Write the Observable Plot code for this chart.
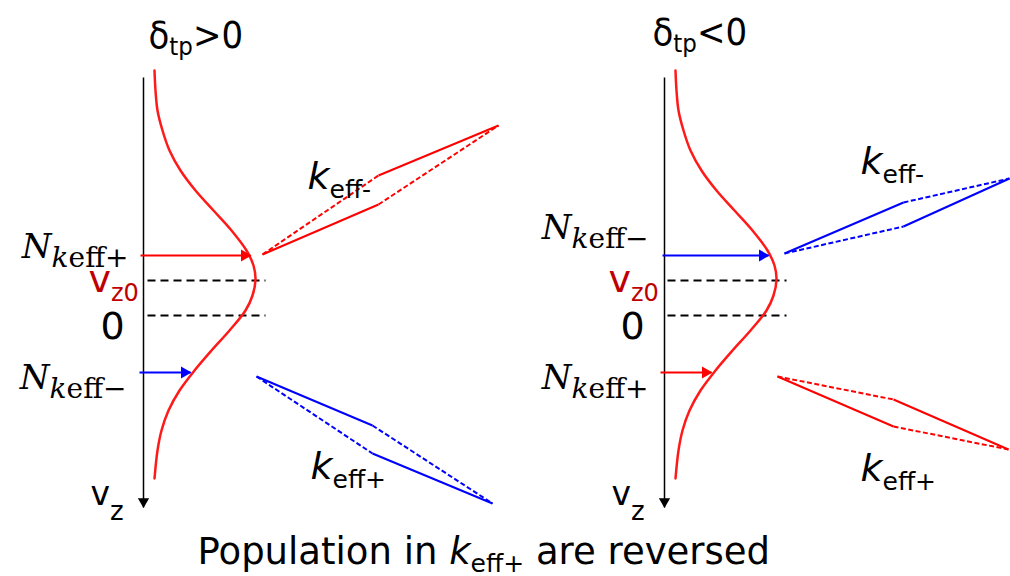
<!DOCTYPE html>
<html><head><meta charset="utf-8">
<script src="https://cdn.jsdelivr.net/npm/d3@7"></script>
<script src="https://cdn.jsdelivr.net/npm/@observablehq/plot@0.6"></script>
<style>html,body{margin:0;padding:0;background:#fff}#chart svg{display:block}</style>
</head><body><div id="chart"></div>
<script>
// ---- panels ----
const panels = ["δtp>0", "δtp<0"];
const axisX = [143, 664];            // v_z axis per panel
const axisTop = 77, axisBottom = 507;
const curveBase = [153, 674];        // base line of the population curve per panel

// ---- population profile (vertical position, width from base) ----
const curveVz  = [70, 90, 110, 130, 150, 170, 190, 210, 230, 250, 265, 279, 295, 310, 330, 350, 370, 390, 410, 430, 450, 478];
const curvePop = [1, 2, 4, 9, 16, 27, 42, 60, 78, 93, 100, 102, 99, 92, 76, 58, 41, 26, 15, 8, 4, 1];

// ---- dashed reference levels (v_z0 and 0) ----
const levelNames = ["vz0", "zero"];
const levelVz = [280, 315];
const levelX1 = [147, 667];
const levelX2 = [265, 786];

// ---- population pointers (N_keff) ----
const pointerPanel = [0, 0, 1, 1];
const pointerKey   = ["keff+", "keff−", "keff−", "keff+"];
const pointerVz    = [255, 372, 255, 372];
const pointerX1    = [140, 139, 662, 660];
const pointerX2    = [250, 190, 768, 711];

// ---- laser beam pairs: start A, upper kink, lower kink, end C ----
const beamPanel = [0, 0, 1, 1];
const beamKey   = ["keff+", "keff−", "keff−", "keff+"];
const beamAx = [262, 256, 784, 777], beamAy = [254, 376, 253, 376];
const beamUx = [378, 372, 903, 893], beamUy = [175, 425, 202, 399];
const beamLx = [378, 372, 903, 893], beamLy = [204, 453, 226, 426];
const beamCx = [498, 492, 1009, 1008], beamCy = [125, 503, 178, 449];
const beamSolidVia = ["lower", "upper", "upper", "lower"];

// ---- text labels ----
const titleText = ["δ_{tp}>0", "δ_{tp}<0"], titleX = [148, 652], titleY = [47, 44];
const nText = ["*N*_{*k*eff+}", "*N*_{*k*eff−}", "*N*_{*k*eff−}", "*N*_{*k*eff+}"];
const nX = [128, 126, 648, 648], nY = [257, 388, 238, 388];
const vz0Text = ["v_{z0}", "v_{z0}"], vz0X = [88, 608], vz0Y = [291, 291];
const zeroText = ["0", "0"], zeroX = [100, 620], zeroY = [338, 338];
const vzText = ["v_{z}", "v_{z}"], vzX = [90, 611], vzY = [504, 504];
const kText = ["*k*_{eff-}", "*k*_{eff+}", "*k*_{eff-}", "*k*_{eff+}"];
const kX = [307, 310, 860, 860], kY = [188, 478, 173, 480];
const captionText = ["Population in *k*_{eff+} are reversed"], captionX = [197], captionY = [563];

// ---- build tables ----
const curve = [];
panels.forEach((p, j) => curveVz.forEach((v, i) => curve.push({panel: p, x: curveBase[j] + curvePop[i], y: v})));
const axes = panels.map((p, j) => ({x: axisX[j], y1: axisTop, y2: axisBottom}));
const levels = [];
panels.forEach((p, j) => levelVz.forEach((v, i) => levels.push({name: levelNames[i], x1: levelX1[j], x2: levelX2[j], y: v})));
const pointers = pointerVz.map((v, i) => ({key: pointerKey[i], x1: pointerX1[i], x2: pointerX2[i], y: v}));
const solid = [], dashed = [];
beamKey.forEach((k, i) => {
  const A = [beamAx[i], beamAy[i]], U = [beamUx[i], beamUy[i]], L = [beamLx[i], beamLy[i]], C = [beamCx[i], beamCy[i]];
  const first = beamSolidVia[i] === "lower" ? L : U, other = beamSolidVia[i] === "lower" ? U : L;
  solid.push({key: k, x1: A[0], y1: A[1], x2: first[0], y2: first[1]});
  solid.push({key: k, x1: other[0], y1: other[1], x2: C[0], y2: C[1]});
  dashed.push({key: k, x1: A[0], y1: A[1], x2: other[0], y2: other[1]});
  dashed.push({key: k, x1: first[0], y1: first[1], x2: C[0], y2: C[1]});
});
const tbl = (T, X, Y) => T.map((t, i) => ({t, x: X[i], y: Y[i]}));

const textGroups = [
  {data: tbl(titleText, titleX, titleY), font: "DejaVu Sans", size: 37, sub: 25, shift: 7, sx: 0.92, fill: "#000", anchor: "start"},
  {data: tbl(nText, nX, nY), font: "DejaVu Serif", size: 34, sub: 28, shift: 9, sx: 1, fill: "#000", anchor: "end"},
  {data: tbl(vz0Text, vz0X, vz0Y), font: "DejaVu Sans", size: 38, sub: 24, shift: 9, sx: 1, fill: "#c00000", anchor: "start"},
  {data: tbl(zeroText, zeroX, zeroY), font: "DejaVu Sans", size: 38, sub: 24, shift: 10, sx: 1, fill: "#000", anchor: "start"},
  {data: tbl(vzText, vzX, vzY), font: "DejaVu Sans", size: 33, sub: 26, shift: 15, sx: 1, fill: "#000", anchor: "start"},
  {data: tbl(kText, kX, kY), font: "DejaVu Sans", size: 38, sub: 25, shift: 9, sx: 1, fill: "#000", anchor: "start"},
  {data: tbl(captionText, captionX, captionY), font: "DejaVu Sans", size: 37, sub: 25, shift: 8, sx: 1, fill: "#000", anchor: "start"}
];

const chart = Plot.plot({
  width: 1010, height: 576,
  margin: 0,
  x: {domain: [0, 1010], range: [0, 1010], axis: null},
  y: {domain: [0, 576], range: [0, 576], axis: null},
  color: {domain: ["keff+", "keff−"], range: ["#ff0000", "#0000ff"]},
  marks: [
    Plot.link(axes, {x1: "x", x2: "x", y1: "y1", y2: "y2", stroke: "#000", strokeWidth: 1.5}),
    Plot.dot(axes, {x: "x", y: "y2", dy: -6, symbol: "triangle", rotate: 180, r: 4.2, fill: "#000", stroke: "none"}),
    Plot.link(levels, {x1: "x1", x2: "x2", y1: "y", y2: "y", stroke: "#000", strokeWidth: 2, strokeDasharray: "8,5"}),
    Plot.line(curve, {x: "x", y: "y", z: "panel", stroke: "#ff1a1a", strokeWidth: 2.5, curve: "catmull-rom"}),
    Plot.link(pointers, {x1: "x1", x2: "x2", y1: "y", y2: "y", stroke: "key", strokeWidth: 2}),
    Plot.dot(pointers, {x: "x2", y: "y", dx: -6, symbol: "triangle", rotate: 90, r: 4.5, fill: "key", stroke: "none"}),
    Plot.link(solid, {x1: "x1", y1: "y1", x2: "x2", y2: "y2", stroke: "key", strokeWidth: 2}),
    Plot.link(dashed, {x1: "x1", y1: "y1", x2: "x2", y2: "y2", stroke: "key", strokeWidth: 2, strokeDasharray: "5,2.5"}),
    ...textGroups.map(g => Plot.text(g.data, {x: "x", y: "y", text: "t", fontSize: g.size, fontFamily: g.font, fill: g.fill, textAnchor: g.anchor, lineAnchor: "bottom"}))
  ]
});
document.getElementById("chart").appendChild(chart);

// ---- rich text: *italic* and _{subscript} ----
function parse(s) {
  const segs = []; let it = false, sub = false, buf = "";
  const push = () => { if (buf) { segs.push({t: buf, it, sub}); buf = ""; } };
  for (let i = 0; i < s.length; i++) {
    const c = s[i];
    if (c === "*") { push(); it = !it; }
    else if (c === "_" && s[i + 1] === "{") { push(); sub = true; i++; }
    else if (c === "}" && sub) { push(); sub = false; }
    else buf += c;
  }
  push(); return segs;
}
const groups = chart.querySelectorAll('g[aria-label="text"]');
groups.forEach((g, gi) => {
  const st = textGroups[gi];
  g.querySelectorAll("text").forEach(t => {
    const segs = parse(t.textContent);
    t.textContent = "";
    let cur = 0;
    segs.forEach(s => {
      const ts = document.createElementNS("http://www.w3.org/2000/svg", "tspan");
      ts.textContent = s.t;
      const want = s.sub ? st.shift : 0;
      if (want !== cur) { ts.setAttribute("dy", want - cur); cur = want; }
      if (s.sub) ts.setAttribute("font-size", st.sub);
      if (s.it) ts.setAttribute("font-style", "italic");
      t.appendChild(ts);
    });
    if (st.sx !== 1) {
      const tr = t.getAttribute("transform") || "";
      t.setAttribute("transform", `${tr} scale(${st.sx},1)`);
    }
  });
});
</script>
</body></html>
